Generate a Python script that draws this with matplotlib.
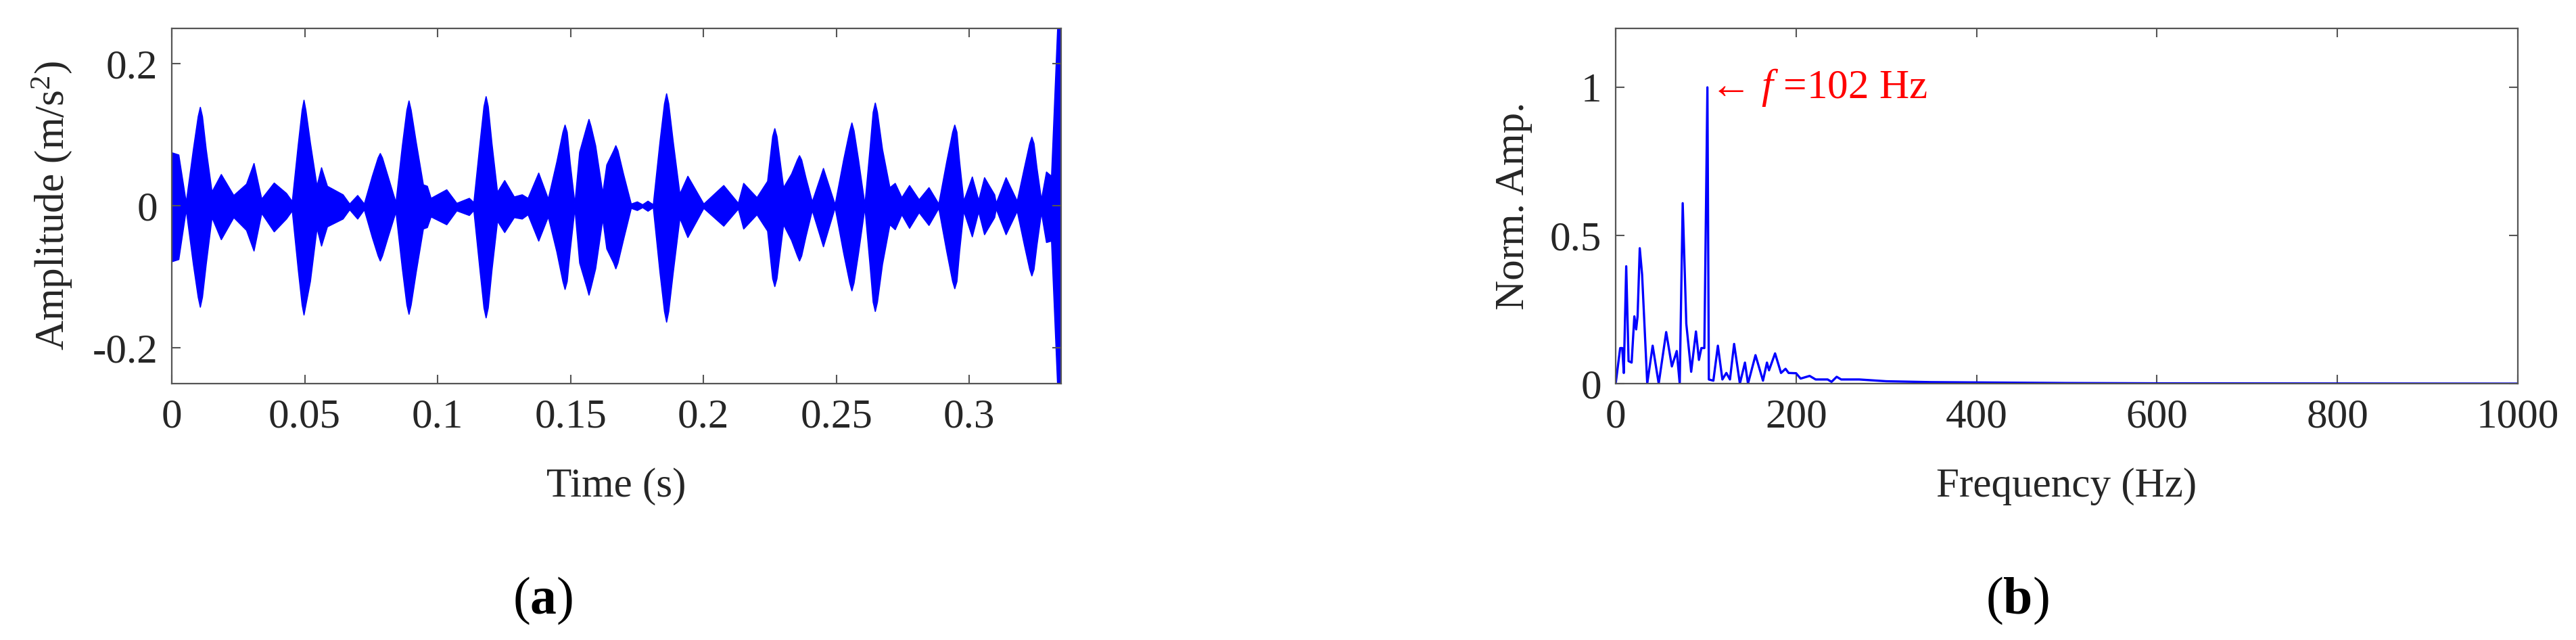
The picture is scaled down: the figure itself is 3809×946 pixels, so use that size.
import numpy as np
import matplotlib
matplotlib.use('Agg')
import matplotlib.pyplot as plt

# Envelope of the time signal (s, m/s^2)
t_env = [0.0000, 0.0025, 0.0053, 0.0106, 0.0150, 0.0185, 0.0232, 0.0280, 0.0308, 0.0337,
         0.0384, 0.0430, 0.0452, 0.0496, 0.0520, 0.0545, 0.0562, 0.0584, 0.0643, 0.0668,
         0.0698, 0.0723, 0.0783, 0.0842, 0.0891, 0.0945, 0.0960, 0.0974, 0.1033, 0.1071,
         0.1118, 0.1135, 0.1181, 0.1224, 0.1251, 0.1287, 0.1317, 0.1339, 0.1379, 0.1415,
         0.1478, 0.1515, 0.1533, 0.1568, 0.1593, 0.1620, 0.1635, 0.1669, 0.1727, 0.1750,
         0.1770, 0.1790, 0.1810, 0.1860, 0.1910, 0.1940, 0.2000, 0.2075, 0.2130, 0.2150,
         0.2200, 0.2240, 0.2267, 0.2300, 0.2360, 0.2408, 0.2450, 0.2494, 0.2557, 0.2606,
         0.2645, 0.2700, 0.2720, 0.2745, 0.2774, 0.2810, 0.2847, 0.2884, 0.2944, 0.2978,
         0.3010, 0.3034, 0.3056, 0.3094, 0.3100, 0.3137, 0.3179, 0.3234, 0.3270, 0.3289,
         0.3308, 0.3331, 0.3345]
up_env = [0.075, 0.072, 0.005, 0.139, 0.020, 0.0445, 0.015, 0.031, 0.060, 0.010,
          0.0325, 0.018, 0.0065, 0.149, 0.089, 0.028, 0.054, 0.028, 0.016, 0.003,
          0.015, 0.003, 0.074, 0.005, 0.148, 0.030, 0.028, 0.011, 0.023, 0.004,
          0.011, 0.005, 0.154, 0.0195, 0.036, 0.013, 0.016, 0.011, 0.0465, 0.010,
          0.114, 0.003, 0.076, 0.122, 0.085, 0.018, 0.058, 0.085, 0.003, 0.006,
          0.002, 0.007, 0.002, 0.158, 0.017, 0.042, 0.003, 0.029, 0.004, 0.032,
          0.012, 0.035, 0.109, 0.026, 0.071, 0.006, 0.053, 0.002, 0.117, 0.002,
          0.145, 0.026, 0.032, 0.012, 0.029, 0.009, 0.026, 0.003, 0.114, 0.007,
          0.041, 0.008, 0.040, 0.016, 0.004, 0.040, 0.007, 0.097, 0.009, 0.048,
          0.042, 0.250, 0.250]
lo_env = [-0.078, -0.075, -0.005, -0.142, -0.016, -0.047, -0.016, -0.034, -0.063, -0.010,
          -0.036, -0.018, -0.0065, -0.153, -0.106, -0.031, -0.056, -0.029, -0.018, -0.005,
          -0.018, -0.005, -0.077, -0.008, -0.152, -0.032, -0.030, -0.015, -0.026, -0.0065,
          -0.013, -0.006, -0.157, -0.021, -0.037, -0.016, -0.018, -0.012, -0.049, -0.015,
          -0.117, -0.003, -0.080, -0.125, -0.088, -0.018, -0.060, -0.088, -0.003, -0.006,
          -0.002, -0.007, -0.002, -0.163, -0.017, -0.044, -0.003, -0.028, -0.004, -0.032,
          -0.012, -0.035, -0.113, -0.026, -0.077, -0.006, -0.057, -0.002, -0.119, -0.002,
          -0.148, -0.026, -0.033, -0.012, -0.031, -0.009, -0.027, -0.003, -0.116, -0.007,
          -0.043, -0.008, -0.040, -0.016, -0.004, -0.040, -0.007, -0.098, -0.009, -0.051,
          -0.049, -0.253, -0.253]

# extra points on the flanks and round tops of the big bursts
t_burst = [0.0080, 0.0098, 0.0114, 0.0128,
           0.0474, 0.0489, 0.0503,
           0.0753, 0.0775, 0.0791, 0.0812,
           0.0866, 0.0883, 0.0899, 0.0918,
           0.1158, 0.1173, 0.1189, 0.1203,
           0.1447, 0.1470, 0.1486, 0.1497,
           0.1560, 0.1576,
           0.1661, 0.1677, 0.1698,
           0.1835, 0.1852, 0.1868, 0.1885,
           0.2259, 0.2275,
           0.2330, 0.2352, 0.2368, 0.2384,
           0.2526, 0.2549, 0.2565, 0.2582,
           0.2625, 0.2637, 0.2653, 0.2672,
           0.2914, 0.2936, 0.2952, 0.2962,
           0.3206, 0.3226, 0.3242, 0.3253]
up_burst = [0.080, 0.126, 0.126, 0.080,
            0.085, 0.135, 0.135,
            0.042, 0.068, 0.068, 0.042,
            0.085, 0.135, 0.135, 0.090,
            0.088, 0.140, 0.140, 0.088,
            0.062, 0.104, 0.104, 0.062,
            0.112, 0.112,
            0.078, 0.078, 0.045,
            0.090, 0.144, 0.144, 0.090,
            0.098, 0.098,
            0.045, 0.065, 0.065, 0.040,
            0.065, 0.106, 0.106, 0.065,
            0.080, 0.132, 0.132, 0.080,
            0.063, 0.104, 0.104, 0.063,
            0.054, 0.088, 0.088, 0.054]
lo_burst = [-0.082, -0.128, -0.128, -0.082,
            -0.088, -0.139, -0.139,
            -0.044, -0.070, -0.070, -0.044,
            -0.088, -0.139, -0.139, -0.093,
            -0.090, -0.143, -0.143, -0.090,
            -0.064, -0.106, -0.106, -0.064,
            -0.114, -0.114,
            -0.080, -0.080, -0.047,
            -0.093, -0.148, -0.148, -0.093,
            -0.102, -0.102,
            -0.048, -0.070, -0.070, -0.043,
            -0.066, -0.108, -0.108, -0.066,
            -0.082, -0.135, -0.135, -0.082,
            -0.064, -0.106, -0.106, -0.064,
            -0.055, -0.089, -0.089, -0.055]

# Normalised spectrum (Hz, -)
freq = [0, 5, 7.3, 9, 11.7, 14.3, 17.7, 20.7, 22.7, 24.3, 26.7, 29.3, 35, 41, 47.7,
        56, 62.3, 67.7, 71, 74.3, 78.3, 83.7, 89, 92.3, 95, 98.3, 101.7, 103.3, 108.3,
        113.3, 118.3, 122.7, 126.7, 131.3, 137.7, 143.3, 146.7, 155, 163.3, 167.7, 170,
        176.7, 183.3, 188.3, 191.7, 200, 205, 215, 221.7, 235, 239.3, 245, 250, 270,
        290, 300, 350, 400, 500, 600, 800, 1000]
amp = [0, 0.12, 0.12, 0.036, 0.396, 0.076, 0.071, 0.227, 0.183, 0.227, 0.457, 0.368, 0.0,
       0.128, 0.0, 0.174, 0.058, 0.11, 0.0, 0.609, 0.202, 0.04, 0.176, 0.08, 0.12, 0.12,
       1.0, 0.014, 0.01, 0.128, 0.014, 0.036, 0.014, 0.134, 0.0, 0.071, 0.0, 0.096, 0.01,
       0.071, 0.045, 0.102, 0.036, 0.05, 0.036, 0.035, 0.017, 0.026, 0.014, 0.014, 0.006,
       0.023, 0.014, 0.014, 0.01, 0.008, 0.005, 0.004, 0.002, 0.001, 0.0005, 0.0]

time_ticks = [0, 0.05, 0.1, 0.15, 0.2, 0.25, 0.3]
time_labels = ['0', '0.05', '0.1', '0.15', '0.2', '0.25', '0.3']
amp_ticks = [-0.2, 0, 0.2]
amp_labels = ['-0.2', '0', '0.2']
freq_ticks = [0, 200, 400, 600, 800, 1000]
freq_labels = ['0', '200', '400', '600', '800', '1000']
norm_ticks = [0, 0.5, 1]
norm_labels = ['0', '0.5', '1']

# merge the envelope points in time order
t_all = np.array(t_env + t_burst)
order = np.argsort(t_all)
t_all = t_all[order]
up_all = np.array(up_env + up_burst)[order]
lo_all = np.array(lo_env + lo_burst)[order]

plt.rcParams['font.family'] = ['Liberation Serif', 'DejaVu Serif']
plt.rcParams['mathtext.fontset'] = 'custom'
plt.rcParams['mathtext.rm'] = 'Liberation Serif'
plt.rcParams['mathtext.it'] = 'Liberation Serif:italic'
plt.rcParams['mathtext.bf'] = 'Liberation Serif:bold'
plt.rcParams['axes.unicode_minus'] = False

fs = 44
txt = '#262626'
spine = '#555555'

fig = plt.figure(figsize=(38.09, 9.46), dpi=100)
ax1 = fig.add_axes([0.0667, 0.4006, 0.3452, 0.5555])
ax2 = fig.add_axes([0.6272, 0.4006, 0.3502, 0.5555])

ax1.fill_between(t_all, lo_all, up_all, color='#0000FF', linewidth=1.2)
ax1.set_xlim(0, t_env[-1])
ax1.set_ylim(-0.25, 0.25)
ax1.set_xticks(time_ticks)
ax1.set_xticklabels(time_labels)
ax1.set_yticks(amp_ticks)
ax1.set_yticklabels(amp_labels)
ax1.set_xlabel('Time (s)', fontsize=fs, color=txt, va='baseline')
ax1.xaxis.set_label_coords(0.5, -0.318)
ax1.set_ylabel('Amplitude (m/s$^2$)', fontsize=fs, color=txt, va='center', ha='center')
ax1.yaxis.set_label_coords(-0.1346, 0.5)

ax2.plot(freq, amp, color='#0000FF', linewidth=2.4)
ax2.set_xlim(0, 1000)
ax2.set_ylim(0, 1.2)
ax2.set_xticks(freq_ticks)
ax2.set_xticklabels(freq_labels)
ax2.set_yticks(norm_ticks)
ax2.set_yticklabels(norm_labels)
ax2.set_xlabel('Frequency (Hz)', fontsize=fs, color=txt, va='baseline')
ax2.xaxis.set_label_coords(0.5, -0.318)
ax2.set_ylabel('Norm. Amp.', fontsize=fs, color=txt, va='center', ha='center')
ax2.yaxis.set_label_coords(-0.113, 0.5)
ax2.text(104, 1.0, '← $f$ =102 Hz', color='#FF0000', fontsize=fs, va='center', ha='left')

for ax in (ax1, ax2):
    for s in ax.spines.values():
        s.set_color(spine)
        s.set_linewidth(1.6)
    ax.tick_params(direction='in', top=True, right=True, length=9.5, width=1.5,
                   color=spine, labelsize=fs, labelcolor=txt)
    ax.tick_params(axis='x', pad=16)
    ax.tick_params(axis='y', pad=15)

fig.text(0.2106, 0.0412, r'($\mathbf{a}$)', fontsize=56, color='black', ha='center', va='baseline')
fig.text(0.7831, 0.0412, r'($\mathbf{b}$)', fontsize=56, color='black', ha='center', va='baseline')

fig.savefig('out.png', dpi=100)
